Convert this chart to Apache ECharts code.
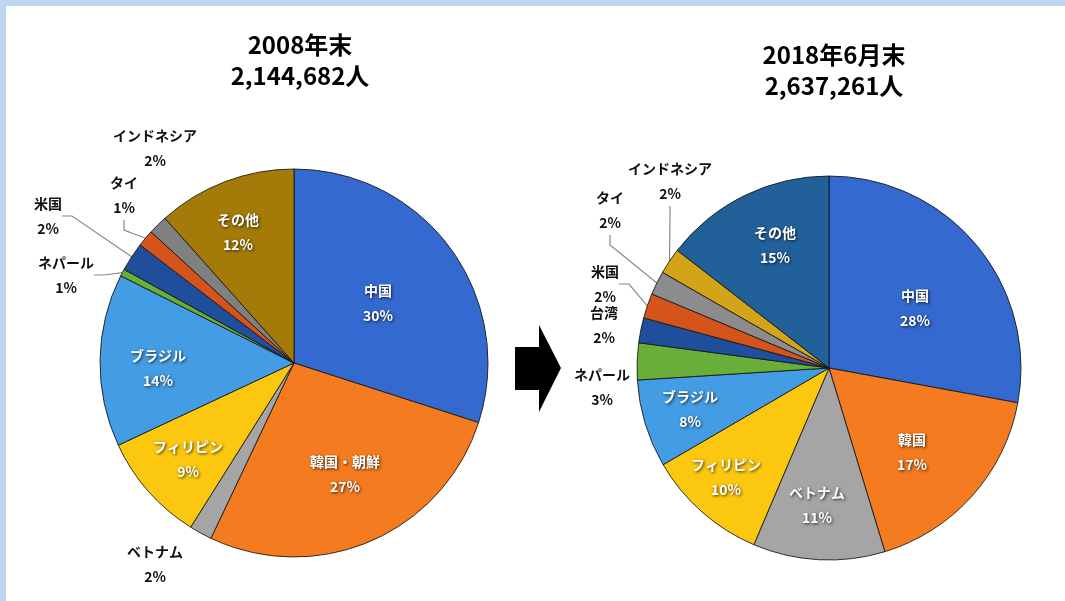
<!DOCTYPE html>
<html>
<head>
<meta charset="utf-8">
<script src="https://cdn.jsdelivr.net/npm/echarts@6/dist/echarts.min.js"></script>
<style>
  html, body { margin: 0; padding: 0; background: #fff; }
  #chart { width: 1065px; height: 601px; }
</style>
</head>
<body>
<div id="chart"></div>
<script>
// 2008年末
const names2008 = ['中国', '韓国・朝鮮', 'ベトナム', 'フィリピン', 'ブラジル', 'ネパール', '米国', 'タイ', 'インドネシア', 'その他']
const values2008 = [30.0, 27.1, 1.9, 9.1, 14.4, 0.6, 2.4, 1.4, 1.6, 11.6]
const pct2008 = [30, 27, 2, 9, 14, 1, 2, 1, 2, 12]
const colors2008 = ['#3469cf', '#f47b20', '#a5a5a5', '#fbc70f', '#449de4', '#6aae3a', '#1f4e9c', '#d5541c', '#808080', '#a47b08']
const outside2008 = ['ベトナム', 'ネパール', '米国', 'タイ', 'インドネシア']
const noLine2008 = ['ベトナム', 'インドネシア']

// 2018年6月末
const names2018 = ['中国', '韓国', 'ベトナム', 'フィリピン', 'ブラジル', 'ネパール', '台湾', '米国', 'タイ', 'インドネシア', 'その他']
const values2018 = [27.9, 17.4, 11.1, 10.2, 7.4, 3.1, 2.1, 2.1, 2.0, 2.2, 14.5]
const pct2018 = [28, 17, 11, 10, 8, 3, 2, 2, 2, 2, 15]
const colors2018 = ['#3469cf', '#f47b20', '#a5a5a5', '#fbc70f', '#449de4', '#6aae3a', '#1f4e9c', '#d5541c', '#8c8c8c', '#d4a418', '#22609a']
const outside2018 = ['ネパール', '台湾', '米国', 'タイ', 'インドネシア']
const noLine2018 = ['ネパール', '台湾']

const titles = ['2008年末\n2,144,682人', '2018年6月末\n2,637,261人']

// ラベル位置（ピクセル）
const labelPos = [
  {
    '中国': [378, 303], '韓国・朝鮮': [345, 474], 'ベトナム': [155, 564], 'フィリピン': [188, 459],
    'ブラジル': [158, 368], 'ネパール': [66, 275], '米国': [48, 216], 'タイ': [124, 195],
    'インドネシア': [155, 148], 'その他': [238, 232]
  },
  {
    '中国': [915, 308], '韓国': [912, 452], 'ベトナム': [817, 505], 'フィリピン': [726, 477],
    'ブラジル': [690, 409], 'ネパール': [602, 387], '台湾': [604, 325], '米国': [605, 284],
    'タイ': [610, 210], 'インドネシア': [670, 181], 'その他': [775, 245]
  }
]

const labelFont = '"Noto Sans CJK JP", "Noto Sans", sans-serif'

function buildData(names, values, pcts, colors, outside, noLine) {
  return names.map((name, i) => {
    const isOut = outside.includes(name)
    return {
      name: name,
      value: values[i],
      itemStyle: { color: colors[i] },
      label: isOut ? {
        position: 'outside',
        color: '#111',
        textShadowBlur: 0
      } : {
        position: 'inside',
        color: '#fff',
        textShadowColor: 'rgba(0,0,0,0.75)',
        textShadowBlur: 3,
        textShadowOffsetX: 1,
        textShadowOffsetY: 1
      },
      labelLine: { show: isOut && !noLine.includes(name) }
    }
  })
}

function pieSeries(idx, center, radius, data, pcts) {
  return {
    type: 'pie',
    center: center,
    radius: radius,
    startAngle: 90,
    clockwise: true,
    avoidLabelOverlap: false,
    data: data,
    itemStyle: {
      borderColor: 'rgba(20,20,20,0.85)',
      borderWidth: 1
    },
    label: {
      show: true,
      fontFamily: labelFont,
      fontWeight: 'bold',
      fontSize: 14,
      lineHeight: 25,
      align: 'center',
      formatter: p => p.name + '\n' + pcts[p.dataIndex] + '%'
    },
    labelLine: {
      show: true,
      length: 10,
      length2: 10,
      lineStyle: { color: '#8a8a8a', width: 1.2 }
    },
    labelLayout: params => {
      const pos = labelPos[idx][data[params.dataIndex].name]
      if (!pos) return {}
      return { x: pos[0], y: pos[1], align: 'center', verticalAlign: 'middle' }
    },
    emphasis: { disabled: true }
  }
}

const chart = echarts.init(document.getElementById('chart'))

const titleStyle = {
  fontFamily: '"Liberation Sans Narrow", "Noto Sans CJK JP", sans-serif',
  fontWeight: 'bold',
  fontSize: 24,
  lineHeight: 31,
  color: '#000'
}

const option = {
  backgroundColor: '#ffffff',
  animation: false,
  title: [
    { text: titles[0], left: 295, top: 24, textAlign: 'center', textStyle: titleStyle },
    { text: titles[1], left: 829, top: 34, textAlign: 'center', textStyle: titleStyle }
  ],
  graphic: [
    { type: 'rect', shape: { x: 0, y: 0, width: 1065, height: 6 }, style: { fill: '#bdd7ee' }, silent: true },
    { type: 'rect', shape: { x: 0, y: 0, width: 6, height: 601 }, style: { fill: '#bdd7ee' }, silent: true },
    {
      type: 'polygon',
      shape: { points: [[515, 347], [539, 347], [539, 325], [561, 368], [539, 412], [539, 390], [515, 390]] },
      style: { fill: '#000' },
      silent: true
    }
  ],
  series: [
    pieSeries(0, [294, 363], 194, buildData(names2008, values2008, pct2008, colors2008, outside2008, noLine2008), pct2008),
    pieSeries(1, [829, 368], 192, buildData(names2018, values2018, pct2018, colors2018, outside2018, noLine2018), pct2018)
  ]
}

chart.setOption(option)
</script>
</body>
</html>
